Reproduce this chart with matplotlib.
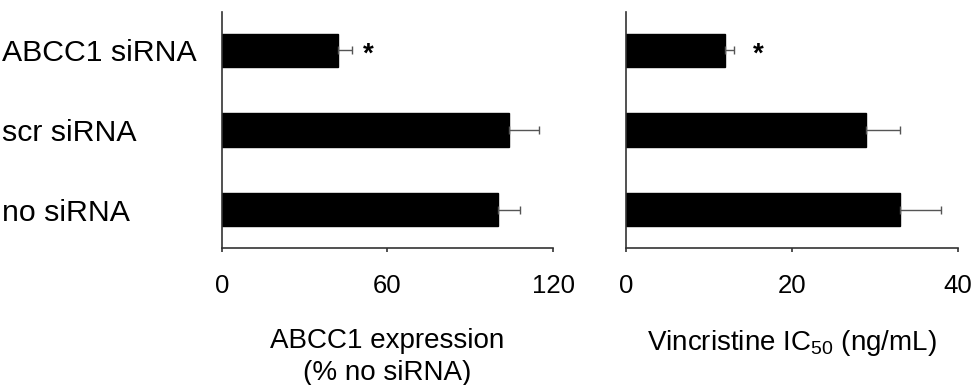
import matplotlib
matplotlib.use('Agg')
import matplotlib.pyplot as plt

plt.rcParams['font.family'] = ['Liberation Sans', 'DejaVu Sans']

groups = ['no siRNA', 'scr siRNA', 'ABCC1 siRNA']
expression = [100, 104, 42]
expression_err = [8, 11, 5]
ic50 = [33, 29, 12]
ic50_err = [5, 4, 1]
star_group = 'ABCC1 siRNA'
expr_star_x = 53
ic50_star_x = 16


def panel(ax, vals, errs, xmax, ticks, star_x, xlabel, show_labels):
    pos = range(len(groups))
    ax.barh(pos, vals, height=0.42, color='black', edgecolor='black')
    ax.errorbar(vals, pos, xerr=[[0] * len(errs), errs], fmt='none',
                ecolor='#555555', elinewidth=1.0, capsize=3, capthick=1.0)
    ax.text(star_x, groups.index(star_group) - 0.06, '*', fontsize=20,
            fontweight='bold', ha='center', va='center')
    ax.set_xlim(0, xmax)
    ax.set_ylim(-0.48, 2.48)
    ax.set_xticks(ticks)
    ax.set_yticks(list(pos))
    ax.set_yticklabels(groups if show_labels else [])
    # left-aligned category names at the figure edge
    ax.tick_params(axis='y', length=0, pad=158, labelsize=21.8)
    for lab in ax.get_yticklabels():
        lab.set_horizontalalignment('left')
    ax.tick_params(axis='x', length=3, width=1.2, pad=16, labelsize=18.5,
                   color='#333333')
    for side in ('top', 'right'):
        ax.spines[side].set_visible(False)
    for side in ('left', 'bottom'):
        ax.spines[side].set_linewidth(1.2)
        ax.spines[side].set_color('#333333')
    ax.set_xlabel(xlabel, fontsize=20, labelpad=21, linespacing=1.3)


fig = plt.figure(figsize=(9.75, 3.85), dpi=100)
ax1 = fig.add_axes([0.2274, 0.3558, 0.340, 0.613])
ax2 = fig.add_axes([0.6418, 0.3558, 0.3405, 0.613])

panel(ax1, expression, expression_err, 120, [0, 60, 120], expr_star_x,
      'ABCC1 expression\n(% no siRNA)', True)
panel(ax2, ic50, ic50_err, 40, [0, 20, 40], ic50_star_x,
      r'Vincristine IC$_{\mathregular{50}}$ (ng/mL)', False)

fig.savefig('out.png', dpi=100)
